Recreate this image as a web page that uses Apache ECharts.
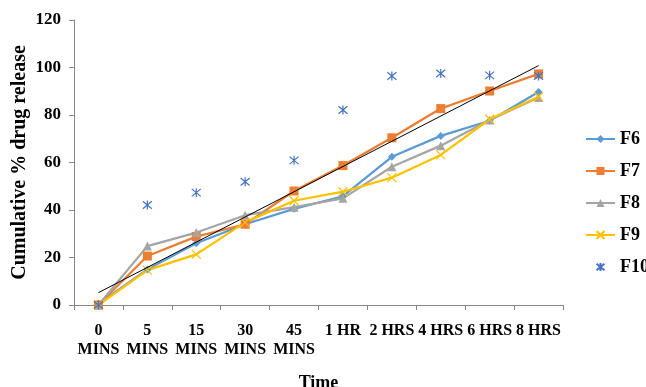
<!DOCTYPE html>
<html>
<head>
<meta charset="utf-8">
<script src="https://cdn.jsdelivr.net/npm/echarts@6/dist/echarts.min.js"></script>
<style>
  html, body { margin: 0; padding: 0; background: #fff; }
  #chart { width: 646px; height: 387px; }
</style>
</head>
<body>
<div id="chart"></div>
<script>
// categories on the time axis
const timePoints = ['0\nMINS', '5\nMINS', '15\nMINS', '30\nMINS', '45\nMINS',
  '1 HR', '2 HRS', '4 HRS', '6 HRS', '8 HRS'];

// cumulative % drug release
const f6 = [0.5, 15, 26, 34, 40.5, 45.8, 62.4, 71.2, 77.6, 89.7];
const f7 = [0, 20.6, 28.8, 34, 48, 58.7, 70.4, 82.7, 90.1, 97.3];
const f8 = [0, 24.8, 30.5, 37.8, 41.2, 44.9, 58.2, 67.1, 77.9, 87.4];
const f9 = [0, 14.7, 21.3, 34.8, 43.9, 47.7, 53.6, 63.2, 78.2, 87.7];
const f10 = [0, 42.1, 47.3, 51.9, 60.9, 82.1, 96.4, 97.5, 96.7, 96.4];

// black trend line: ends only
const trend = [5.2, null, null, null, null, null, null, null, null, 100.8];

const yTicks = { min: 0, max: 120, step: 20 };

const font = 'Liberation Serif';
const axisGray = '#868686';

const xSym = 'path://M0,0L10,10M10,0L0,10';
const starSym = 'path://M0,0L10,10M10,0L0,10M5,-1L5,11';

let chart = echarts.init(document.getElementById('chart'), null, { renderer: 'canvas' });

let option = {
  animation: false,
  backgroundColor: '#fff',
  textStyle: { fontFamily: font },
  grid: { left: 74, right: 83, top: 20, bottom: 82, outerBoundsMode: 'none', containLabel: false },
  legend: {
    orient: 'vertical',
    left: 580,
    top: 125,
    itemWidth: 29,
    itemHeight: 10,
    itemGap: 14,
    data: ['F6', 'F7', 'F8', 'F9', 'F10'],
    textStyle: { fontFamily: font, fontWeight: 'bold', fontSize: 18, color: '#000' }
  },
  xAxis: {
    type: 'category',
    data: timePoints,
    boundaryGap: true,
    name: 'Time',
    nameLocation: 'middle',
    nameGap: 69,
    nameMoveOverlap: false,
    nameTextStyle: { fontFamily: font, fontWeight: 'bold', fontSize: 18, color: '#000' },
    axisLine: { lineStyle: { color: axisGray, width: 1 } },
    axisTick: { show: true, length: 5, lineStyle: { color: axisGray } },
    axisLabel: {
      interval: 0,
      margin: 16,
      fontFamily: font,
      fontWeight: 'bold',
      fontSize: 16,
      lineHeight: 19,
      color: '#000'
    },
    splitLine: { show: false }
  },
  yAxis: {
    type: 'value',
    min: yTicks.min,
    max: yTicks.max,
    interval: yTicks.step,
    name: 'Cumulative % drug release',
    nameLocation: 'middle',
    nameGap: 44,
    nameMoveOverlap: false,
    nameTextStyle: { fontFamily: font, fontWeight: 'bold', fontSize: 20, color: '#000' },
    axisLine: { show: true, lineStyle: { color: axisGray, width: 1 } },
    axisTick: { show: true, length: 5, lineStyle: { color: axisGray } },
    axisLabel: { margin: 13, fontFamily: font, fontWeight: 'bold', fontSize: 17, color: '#000' },
    splitLine: { show: false }
  },
  series: [
    {
      name: 'F6', type: 'line', data: f6,
      symbol: 'diamond', symbolSize: 8,
      lineStyle: { color: '#5B9BD5', width: 2.25 },
      itemStyle: { color: '#5B9BD5' }
    },
    {
      name: 'F7', type: 'line', data: f7,
      symbol: 'rect', symbolSize: 9,
      lineStyle: { color: '#ED7D31', width: 2.25 },
      itemStyle: { color: '#ED7D31' }
    },
    {
      name: 'F8', type: 'line', data: f8,
      symbol: 'triangle', symbolSize: 9,
      lineStyle: { color: '#A5A5A5', width: 2.25 },
      itemStyle: { color: '#A5A5A5' }
    },
    {
      name: 'F9', type: 'line', data: f9,
      symbol: xSym, symbolSize: 9,
      lineStyle: { color: '#FFC000', width: 2.25 },
      itemStyle: { color: '#FFC000', borderColor: '#FFC000', borderWidth: 1.2 }
    },
    {
      name: 'F10', type: 'line', data: f10,
      symbol: starSym, symbolSize: 9,
      lineStyle: { width: 0, opacity: 0 },
      itemStyle: { color: '#4472C4', borderColor: '#4472C4', borderWidth: 1.2 }
    },
    {
      name: 'trend', type: 'line', data: trend,
      connectNulls: true, showSymbol: false, symbol: 'none',
      lineStyle: { color: '#000', width: 1 },
      z: 5, silent: true
    }
  ]
};

chart.setOption(option);
</script>
</body>
</html>
